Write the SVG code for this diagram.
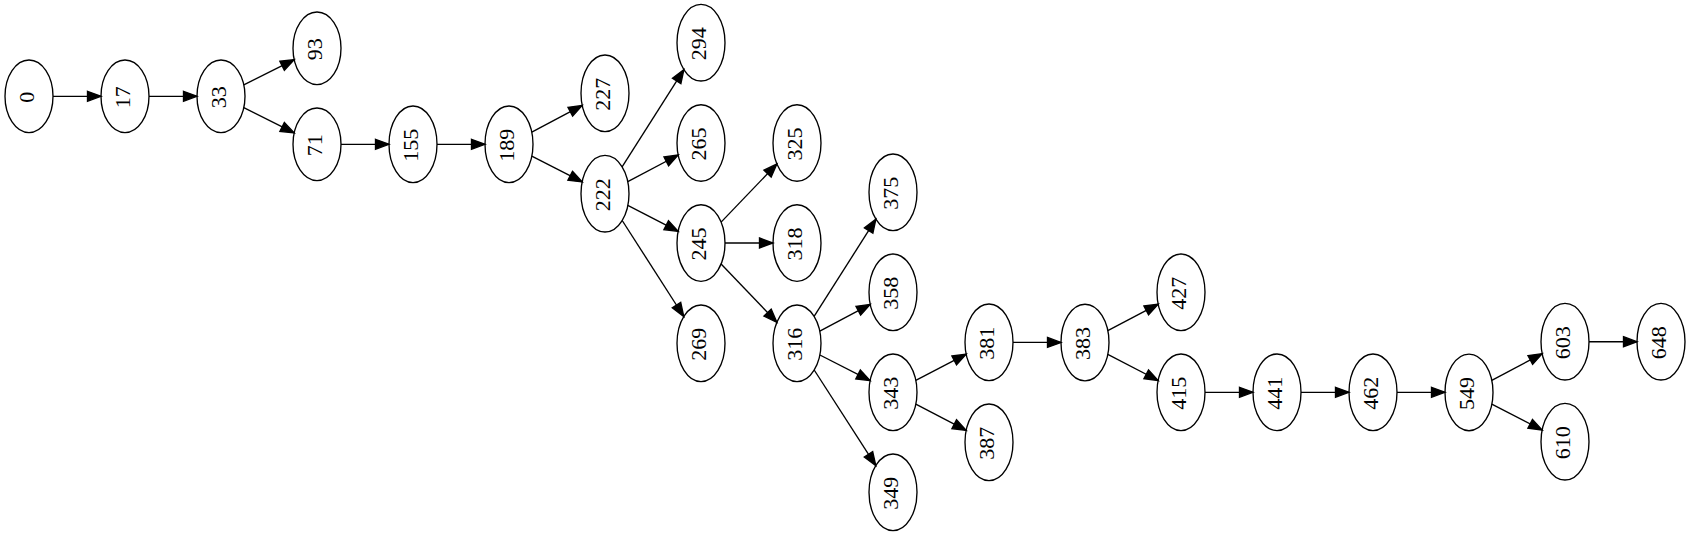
<svg xmlns="http://www.w3.org/2000/svg" width="1691" height="536" viewBox="0 0 1691 536">
<defs>
<style>
.n ellipse{fill:none;stroke:#000;stroke-width:1.35}
.n text{font-family:"Liberation Serif","Times New Roman",serif;font-size:22px;fill:#000;text-anchor:middle}
#edges line{stroke:#000;stroke-width:1.35;marker-end:url(#arr)}
</style>
<marker id="arr" markerUnits="userSpaceOnUse" markerWidth="18" markerHeight="14" refX="13.5" refY="5" orient="auto" overflow="visible">
<path d="M0,0 L13.5,5 L0,10 z" fill="#000" stroke="#000" stroke-width="1.35"/>
</marker>
</defs>
<rect width="1691" height="536" fill="#fff"/>
<g id="edges">
<line x1="53" y1="96.3" x2="101" y2="96.3"/>
<line x1="149" y1="96.3" x2="197" y2="96.3"/>
<line x1="243.8" y1="84.9" x2="294.2" y2="59.7"/>
<line x1="243.8" y1="107.7" x2="294.2" y2="132.9"/>
<line x1="341" y1="144.3" x2="389" y2="144.3"/>
<line x1="437" y1="144.3" x2="485" y2="144.3"/>
<line x1="531.8" y1="132.2" x2="582.2" y2="105.4"/>
<line x1="531.8" y1="156.1" x2="582.2" y2="181.9"/>
<line x1="622.1" y1="166.8" x2="683.9" y2="69.6"/>
<line x1="627.8" y1="181.7" x2="678.2" y2="155.0"/>
<line x1="627.8" y1="205.4" x2="678.2" y2="231.3"/>
<line x1="622.2" y1="220.5" x2="683.8" y2="316.5"/>
<line x1="721.1" y1="222.1" x2="776.9" y2="163.9"/>
<line x1="725" y1="243" x2="773" y2="243"/>
<line x1="721.1" y1="264.0" x2="776.9" y2="322.3"/>
<line x1="814.1" y1="316.4" x2="875.9" y2="219.2"/>
<line x1="819.8" y1="331.2" x2="870.2" y2="304.4"/>
<line x1="819.9" y1="355.0" x2="870.1" y2="380.6"/>
<line x1="814.2" y1="370.0" x2="875.8" y2="465.6"/>
<line x1="915.8" y1="380.4" x2="966.2" y2="354.2"/>
<line x1="915.8" y1="404.2" x2="966.2" y2="430.4"/>
<line x1="1013" y1="342.4" x2="1061" y2="342.4"/>
<line x1="1107.8" y1="330.6" x2="1158.2" y2="304.2"/>
<line x1="1107.8" y1="354.3" x2="1158.2" y2="380.5"/>
<line x1="1205" y1="392.3" x2="1253" y2="392.3"/>
<line x1="1301" y1="392.3" x2="1349" y2="392.3"/>
<line x1="1397" y1="392.3" x2="1445" y2="392.3"/>
<line x1="1491.8" y1="380.4" x2="1542.2" y2="353.7"/>
<line x1="1491.8" y1="404.1" x2="1542.2" y2="430.0"/>
<line x1="1589" y1="341.7" x2="1637" y2="341.7"/>
</g>
<g id="n0" class="n"><ellipse cx="29" cy="96.3" rx="24" ry="36.3"/><text transform="translate(29,97.3) rotate(-90)" y="4.6">0</text></g>
<g id="n17" class="n"><ellipse cx="125" cy="96.3" rx="24" ry="36.3"/><text transform="translate(125,97.3) rotate(-90)" y="4.6">17</text></g>
<g id="n33" class="n"><ellipse cx="221" cy="96.3" rx="24" ry="36.3"/><text transform="translate(221,97.3) rotate(-90)" y="4.6">33</text></g>
<g id="n93" class="n"><ellipse cx="317" cy="48.3" rx="24" ry="36.3"/><text transform="translate(317,49.3) rotate(-90)" y="4.6">93</text></g>
<g id="n71" class="n"><ellipse cx="317" cy="144.3" rx="24" ry="36.3"/><text transform="translate(317,145.3) rotate(-90)" y="4.6">71</text></g>
<g id="n155" class="n"><ellipse cx="413" cy="144.3" rx="24" ry="38.3"/><text transform="translate(413,145.3) rotate(-90)" y="4.6">155</text></g>
<g id="n189" class="n"><ellipse cx="509" cy="144.3" rx="24" ry="38.3"/><text transform="translate(509,145.3) rotate(-90)" y="4.6">189</text></g>
<g id="n227" class="n"><ellipse cx="605" cy="93.3" rx="24" ry="38.3"/><text transform="translate(605,94.3) rotate(-90)" y="4.6">227</text></g>
<g id="n222" class="n"><ellipse cx="605" cy="193.7" rx="24" ry="38.3"/><text transform="translate(605,194.7) rotate(-90)" y="4.6">222</text></g>
<g id="n294" class="n"><ellipse cx="701" cy="42.7" rx="24" ry="38.3"/><text transform="translate(701,43.7) rotate(-90)" y="4.6">294</text></g>
<g id="n265" class="n"><ellipse cx="701" cy="143" rx="24" ry="38.3"/><text transform="translate(701,144) rotate(-90)" y="4.6">265</text></g>
<g id="n245" class="n"><ellipse cx="701" cy="243" rx="24" ry="38.3"/><text transform="translate(701,244) rotate(-90)" y="4.6">245</text></g>
<g id="n269" class="n"><ellipse cx="701" cy="343.3" rx="24" ry="38.3"/><text transform="translate(701,344.3) rotate(-90)" y="4.6">269</text></g>
<g id="n325" class="n"><ellipse cx="797" cy="143" rx="24" ry="38.3"/><text transform="translate(797,144) rotate(-90)" y="4.6">325</text></g>
<g id="n318" class="n"><ellipse cx="797" cy="243" rx="24" ry="38.3"/><text transform="translate(797,244) rotate(-90)" y="4.6">318</text></g>
<g id="n316" class="n"><ellipse cx="797" cy="343.3" rx="24" ry="38.3"/><text transform="translate(797,344.3) rotate(-90)" y="4.6">316</text></g>
<g id="n375" class="n"><ellipse cx="893" cy="192.3" rx="24" ry="38.3"/><text transform="translate(893,193.3) rotate(-90)" y="4.6">375</text></g>
<g id="n358" class="n"><ellipse cx="893" cy="292.3" rx="24" ry="38.3"/><text transform="translate(893,293.3) rotate(-90)" y="4.6">358</text></g>
<g id="n343" class="n"><ellipse cx="893" cy="392.3" rx="24" ry="38.3"/><text transform="translate(893,393.3) rotate(-90)" y="4.6">343</text></g>
<g id="n349" class="n"><ellipse cx="893" cy="492.3" rx="24" ry="38.3"/><text transform="translate(893,493.3) rotate(-90)" y="4.6">349</text></g>
<g id="n381" class="n"><ellipse cx="989" cy="342.3" rx="24" ry="38.3"/><text transform="translate(989,343.3) rotate(-90)" y="4.6">381</text></g>
<g id="n387" class="n"><ellipse cx="989" cy="442.3" rx="24" ry="38.3"/><text transform="translate(989,443.3) rotate(-90)" y="4.6">387</text></g>
<g id="n383" class="n"><ellipse cx="1085" cy="342.5" rx="24" ry="38.3"/><text transform="translate(1085,343.5) rotate(-90)" y="4.6">383</text></g>
<g id="n427" class="n"><ellipse cx="1181" cy="292.3" rx="24" ry="38.3"/><text transform="translate(1181,293.3) rotate(-90)" y="4.6">427</text></g>
<g id="n415" class="n"><ellipse cx="1181" cy="392.3" rx="24" ry="38.3"/><text transform="translate(1181,393.3) rotate(-90)" y="4.6">415</text></g>
<g id="n441" class="n"><ellipse cx="1277" cy="392.3" rx="24" ry="38.3"/><text transform="translate(1277,393.3) rotate(-90)" y="4.6">441</text></g>
<g id="n462" class="n"><ellipse cx="1373" cy="392.3" rx="24" ry="38.3"/><text transform="translate(1373,393.3) rotate(-90)" y="4.6">462</text></g>
<g id="n549" class="n"><ellipse cx="1469" cy="392.4" rx="24" ry="38.3"/><text transform="translate(1469,393.4) rotate(-90)" y="4.6">549</text></g>
<g id="n603" class="n"><ellipse cx="1565" cy="341.7" rx="24" ry="38.3"/><text transform="translate(1565,342.7) rotate(-90)" y="4.6">603</text></g>
<g id="n610" class="n"><ellipse cx="1565" cy="441.7" rx="24" ry="38.3"/><text transform="translate(1565,442.7) rotate(-90)" y="4.6">610</text></g>
<g id="n648" class="n"><ellipse cx="1661" cy="341.7" rx="24" ry="38.3"/><text transform="translate(1661,342.7) rotate(-90)" y="4.6">648</text></g>
</svg>
